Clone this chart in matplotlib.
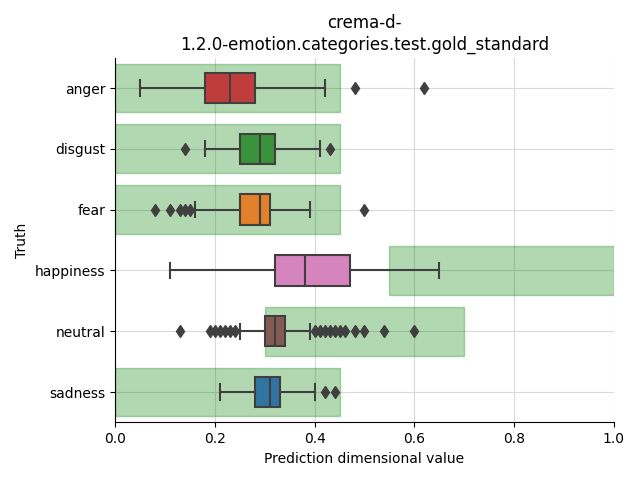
import matplotlib
matplotlib.use("Agg")
import matplotlib.pyplot as plt

categories = ["anger", "disgust", "fear", "happiness", "neutral", "sadness"]
colors = ["#c03d3e", "#3a923a", "#e1812c", "#d684bd", "#845b53", "#3274a1"]

whislo = [0.05, 0.18, 0.16, 0.11, 0.25, 0.21]
q1 = [0.18, 0.25, 0.25, 0.32, 0.30, 0.28]
med = [0.23, 0.29, 0.29, 0.38, 0.32, 0.31]
q3 = [0.28, 0.32, 0.31, 0.47, 0.34, 0.33]
whishi = [0.42, 0.41, 0.39, 0.65, 0.39, 0.40]
fliers = [
    [0.48, 0.62],
    [0.14, 0.43],
    [0.08, 0.11, 0.13, 0.14, 0.15, 0.50],
    [],
    [0.13, 0.19, 0.20, 0.21, 0.22, 0.23, 0.24, 0.40, 0.41, 0.42, 0.43,
     0.44, 0.45, 0.46, 0.48, 0.50, 0.54, 0.60],
    [0.42, 0.44],
]

# gold standard ranges
range_lo = [0.0, 0.0, 0.0, 0.55, 0.30, 0.0]
range_hi = [0.45, 0.45, 0.45, 1.0, 0.70, 0.45]

fig = plt.figure(figsize=(6.4, 4.8), dpi=100)
ax = fig.add_subplot(111)
fig.subplots_adjust(left=0.18, right=0.959, top=0.88, bottom=0.12)

pos = list(range(len(categories)))
widths = [h - l for l, h in zip(range_lo, range_hi)]
ax.barh(pos, widths, left=range_lo, height=0.8, color="green", alpha=0.3,
        edgecolor="green", linewidth=1, zorder=2)

stats = []
for i in range(len(categories)):
    stats.append(dict(whislo=whislo[i], q1=q1[i], med=med[i], q3=q3[i],
                      whishi=whishi[i], fliers=fliers[i], label=categories[i]))

lc = "#3f3f3f"
bp = ax.bxp(stats, positions=pos, widths=0.5, vert=False, patch_artist=True,
            boxprops=dict(edgecolor=lc, linewidth=1.5),
            medianprops=dict(color=lc, linewidth=1.5),
            whiskerprops=dict(color=lc, linewidth=1.5),
            capprops=dict(color=lc, linewidth=1.5),
            flierprops=dict(marker="d", markerfacecolor=lc, markeredgecolor=lc,
                            markersize=6),
            zorder=3)
for b, c in zip(bp["boxes"], colors):
    b.set_facecolor(c)

ax.set_xlim(0, 1)
ax.set_ylim(5.5, -0.5)
ax.set_yticks(pos)
ax.set_yticklabels(categories)
ax.set_xticks([0, 0.2, 0.4, 0.6, 0.8, 1.0])
ax.grid(True, color="#d9d9d9", linewidth=0.8, zorder=0)
ax.set_axisbelow(True)
ax.spines["top"].set_visible(False)
ax.spines["right"].set_visible(False)
ax.set_xlabel("Prediction dimensional value")
ax.set_ylabel("Truth")
ax.set_title("crema-d-\n1.2.0-emotion.categories.test.gold_standard")

fig.savefig("out.png", dpi=100)
